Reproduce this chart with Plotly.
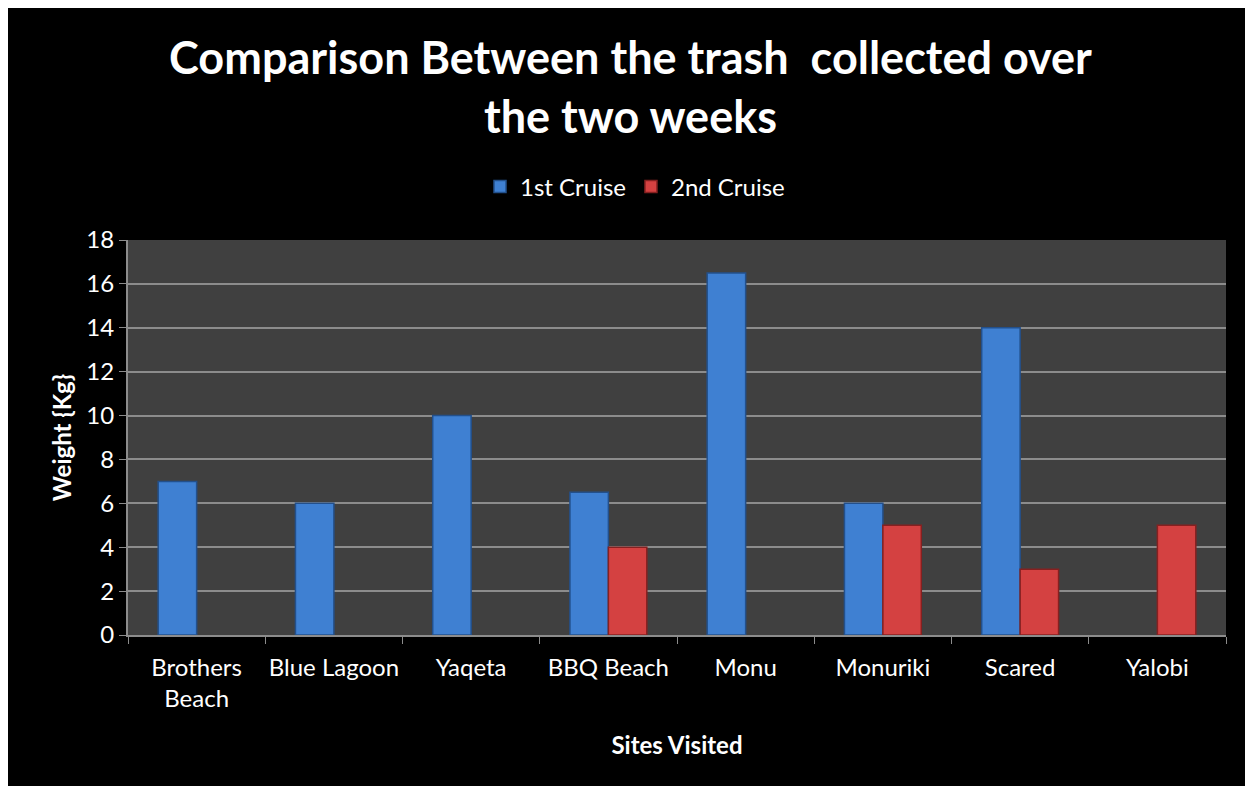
import plotly.graph_objects as go

sites = ["Brothers<br>Beach", "Blue Lagoon", "Yaqeta", "BBQ Beach", "Monu", "Monuriki", "Scared", "Yalobi"]
cruise1 = [7, 6, 10, 6.5, 16.5, 6, 14, None]
cruise2 = [None, None, None, 4, None, 5, 3, 5]
y_ticks = [0, 2, 4, 6, 8, 10, 12, 14, 16, 18]

# page has an 8px body margin, so the figure is drawn 8px in
W, H = 1245, 778
L, R, T, B = 120, 27, 232, 151
pw, ph = W - L - R, H - T - B

def px(x):
    return (x - L) / pw

def py(y):
    return (H - B - y) / ph

fig = go.Figure()
fig.add_trace(go.Bar(
    x=sites, y=cruise1, name="1st Cruise",
    marker=dict(color="#3f80d2", line=dict(color="#23508c", width=1.5)),
))
fig.add_trace(go.Bar(
    x=sites, y=cruise2, name="2nd Cruise",
    marker=dict(color="#d44141", line=dict(color="#862020", width=1.5)),
))

font_main = "Lato, Calibri, Carlito, sans-serif"

fig.update_layout(
    width=W, height=H,
    margin=dict(l=L, r=R, t=T, b=B, autoexpand=False),
    paper_bgcolor="#000000",
    plot_bgcolor="#404040",
    barmode="group",
    bargap=0.44,
    bargroupgap=0,
    font=dict(family=font_main, color="white", size=24),
    title=dict(
        text="<b>Comparison Between the trash  collected over<br>the two weeks</b>",
        x=0.5, xanchor="center", y=1 - 66 / H, yanchor="middle",
        font=dict(size=45, color="white", family=font_main),
    ),
    legend=dict(
        orientation="h", x=px(627), xanchor="center",
        y=py(179), yanchor="middle",
        font=dict(size=24, color="white"),
        traceorder="normal",
    ),
)

fig.update_xaxes(
    showline=True, linecolor="#8c8c8c", linewidth=2,
    ticks="outside", tickson="boundaries", ticklen=7, tickcolor="#8c8c8c", tickwidth=1,
    tickangle=0, ticklabelstandoff=10,
    tickfont=dict(size=24, color="white"),
    title=dict(text="<b>Sites Visited</b>", font=dict(size=24, color="white"), standoff=26),
    showgrid=False,
)
fig.update_yaxes(
    range=[0, 18], tickvals=y_ticks,
    showline=True, linecolor="#8c8c8c", linewidth=2,
    ticks="outside", ticklen=7, tickcolor="#8c8c8c",
    showgrid=True, gridcolor="#8c8c8c", gridwidth=2,
    tickfont=dict(size=24, color="white"),
    title=dict(text="<b>Weight {Kg}</b>", font=dict(size=24, color="white"), standoff=8),
    zeroline=False,
)

fig.write_html("out.html")
